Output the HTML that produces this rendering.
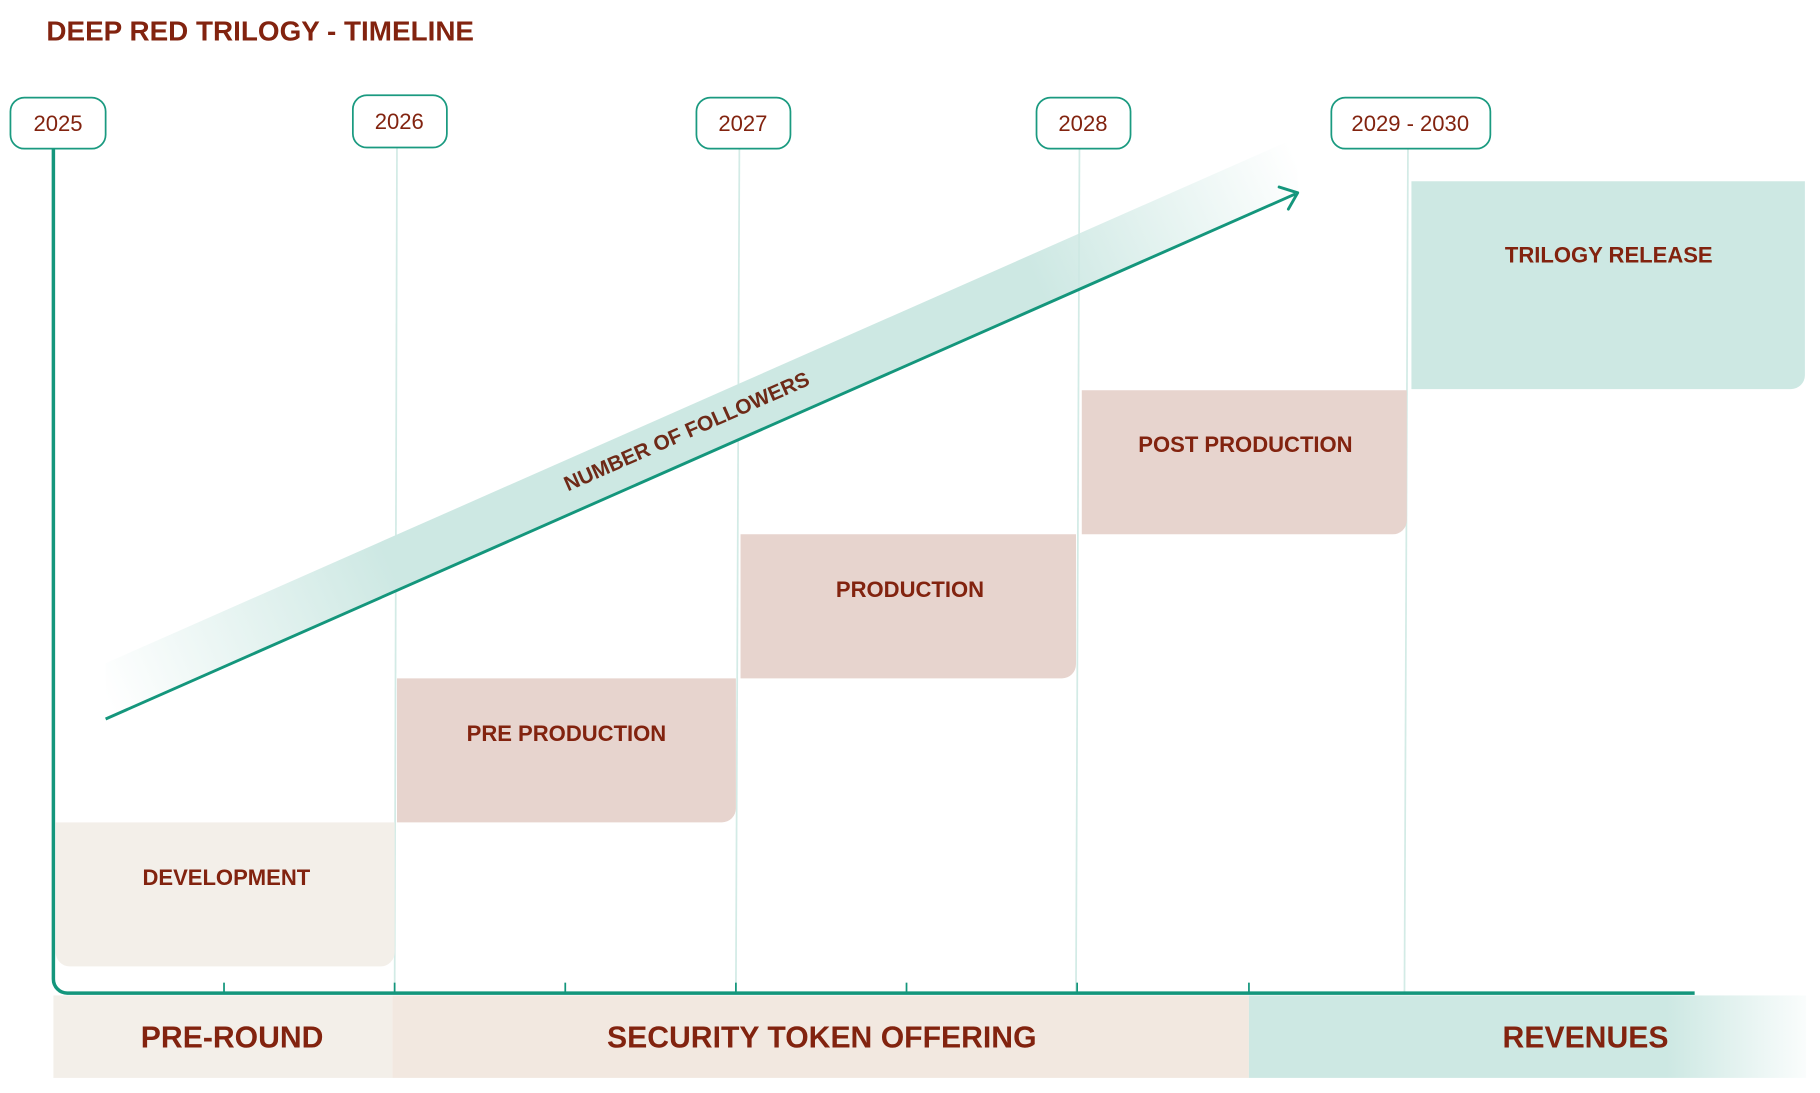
<!DOCTYPE html>
<html><head><meta charset="utf-8"><style>html,body{margin:0;padding:0;background:#fff}svg{display:block}</style></head>
<body>
<svg width="1820" height="1093" viewBox="0 0 1568 941" preserveAspectRatio="none" xmlns="http://www.w3.org/2000/svg" font-family="Liberation Sans, sans-serif">
<defs>
<linearGradient id="band" gradientUnits="userSpaceOnUse" x1="91" y1="600" x2="1118" y2="140">
<stop offset="0" stop-color="#cde8e3" stop-opacity="0"/>
<stop offset="0.24" stop-color="#cde8e3" stop-opacity="1"/>
<stop offset="0.78" stop-color="#cde8e3" stop-opacity="1"/>
<stop offset="1" stop-color="#cde8e3" stop-opacity="0"/>
</linearGradient>
<linearGradient id="rev" x1="0" x2="1" y1="0" y2="0">
<stop offset="0" stop-color="#cde8e3"/>
<stop offset="0.75" stop-color="#cde8e3"/>
<stop offset="1" stop-color="#cde8e3" stop-opacity="0.1"/>
</linearGradient>
</defs>
<text x="40" y="35" font-size="24" font-weight="bold" fill="#82230f">DEEP RED TRILOGY - TIMELINE</text>

<g stroke="#d3ebe6" stroke-width="1.5">
<line x1="342" y1="127" x2="340" y2="855"/>
<line x1="637" y1="128" x2="634" y2="855"/>
<line x1="930" y1="128" x2="927" y2="855"/>
<line x1="1213" y1="128" x2="1210" y2="855"/>
</g>

<path d="M48 708 H340 V820 a12 12 0 0 1 -12 12 H60 a12 12 0 0 1 -12 -12 Z" fill="#f3efe9"/>
<path d="M342 584 H634 V696 a12 12 0 0 1 -12 12 H342 Z" fill="#e7d4ce"/>
<path d="M638 460 H927 V572 a12 12 0 0 1 -12 12 H638 Z" fill="#e7d4ce"/>
<path d="M932 336 H1212 V448 a12 12 0 0 1 -12 12 H932 Z" fill="#e7d4ce"/>
<path d="M1216 156 H1555 V323 a12 12 0 0 1 -12 12 H1216 Z" fill="#cde8e3"/>
<g font-size="19" font-weight="bold" fill="#82230f" text-anchor="middle">
<text x="195" y="762">DEVELOPMENT</text>
<text x="488" y="638">PRE PRODUCTION</text>
<text x="784" y="514">PRODUCTION</text>
<text x="1073" y="389">POST PRODUCTION</text>
<text x="1386" y="226">TRILOGY RELEASE</text>
</g>

<polygon points="91,619 1118,166 1118,118 91,571" fill="url(#band)"/>
<text transform="translate(594,377) rotate(-23.8)" font-size="18" font-weight="bold" fill="#6e2a18" text-anchor="middle">NUMBER OF FOLLOWERS</text>
<line x1="91" y1="619" x2="1116" y2="167" stroke="#14967c" stroke-width="2.5"/>
<polyline points="1102,161 1118,166 1110,180" fill="none" stroke="#14967c" stroke-width="2.5" stroke-linejoin="round" stroke-linecap="round"/>

<rect x="46" y="857" width="292" height="71" fill="#f3efe9"/>
<rect x="338" y="857" width="738" height="71" fill="#f2e8e0"/>
<rect x="1076" y="857" width="480" height="71" fill="url(#rev)"/>
<g font-size="26" font-weight="bold" fill="#82230f" text-anchor="middle">
<text x="200" y="902">PRE-ROUND</text>
<text x="708" y="902">SECURITY TOKEN OFFERING</text>
<text x="1366" y="902">REVENUES</text>
</g>

<path d="M46 128 V843 a12 12 0 0 0 12 12 H1460" fill="none" stroke="#14967c" stroke-width="3"/>
<g stroke="#14967c" stroke-width="1.5">
<line x1="193" y1="846" x2="193" y2="855"/>
<line x1="340" y1="846" x2="340" y2="855"/>
<line x1="487" y1="846" x2="487" y2="855"/>
<line x1="634" y1="846" x2="634" y2="855"/>
<line x1="781" y1="846" x2="781" y2="855"/>
<line x1="928" y1="846" x2="928" y2="855"/>
<line x1="1076" y1="846" x2="1076" y2="855"/>
</g>

<g fill="#fff" stroke="#1a9a80" stroke-width="1.5">
<rect x="9" y="84" width="82" height="44" rx="12"/>
<rect x="304" y="82" width="81" height="45" rx="12"/>
<rect x="600" y="84" width="81" height="44" rx="12"/>
<rect x="893" y="84" width="81" height="44" rx="12"/>
<rect x="1147" y="84" width="137" height="44" rx="12"/>
</g>
<g font-size="19" fill="#82230f" text-anchor="middle">
<text x="50" y="113">2025</text>
<text x="344" y="111">2026</text>
<text x="640" y="113">2027</text>
<text x="933" y="113">2028</text>
<text x="1215" y="113">2029 - 2030</text>
</g>
</svg>
</body></html>
